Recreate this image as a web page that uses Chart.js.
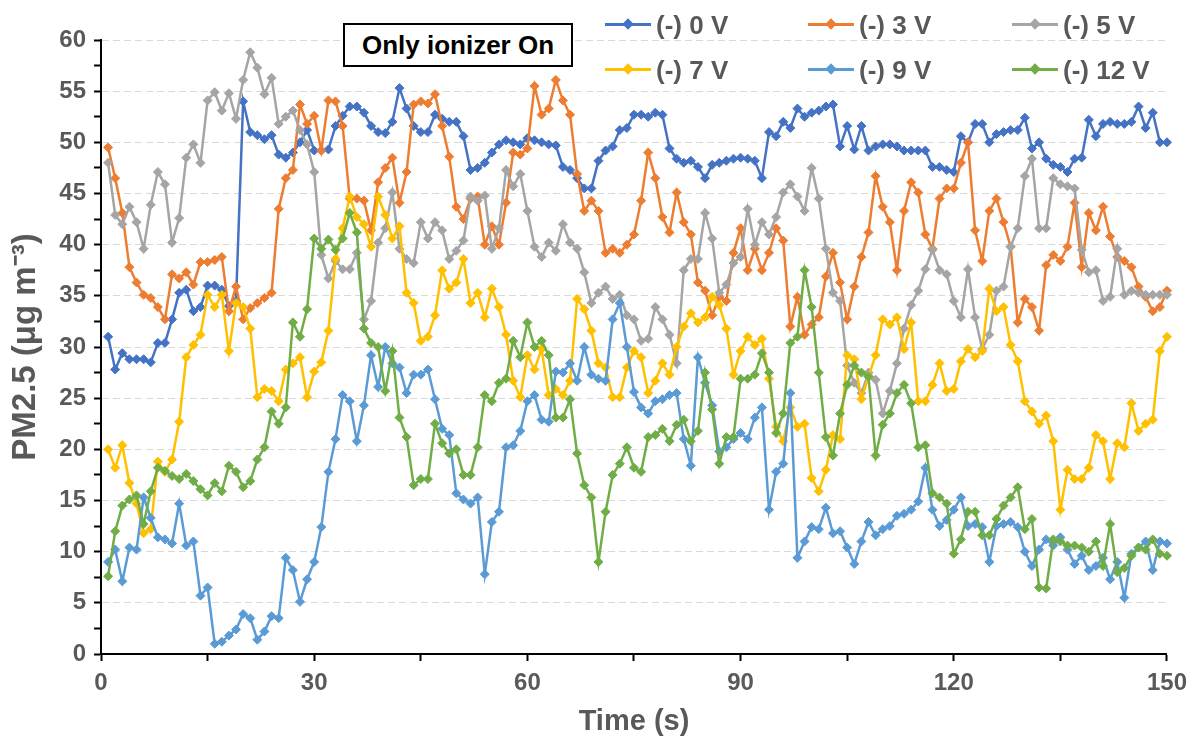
<!DOCTYPE html>
<html>
<head>
<meta charset="utf-8">
<script src="https://cdn.jsdelivr.net/npm/chart.js@4.4.1/dist/chart.umd.min.js"></script>
<style>
  html, body { margin: 0; padding: 0; background: #fff; }
  #wrap { position: relative; width: 1195px; height: 745px; overflow: hidden; }
  #chart { position: absolute; left: 0; top: 0; }
  .note {
    position: absolute; left: 343px; top: 23px; width: 226px; height: 40px;
    border: 2px solid #000; background: #fff; color: #000;
    font: bold 26px "Liberation Sans", Arial, sans-serif;
    text-align: center; line-height: 40px;
  }
  .item {
    position: absolute; height: 28px; line-height: 28px; white-space: nowrap;
    font: bold 26px "Liberation Sans", Arial, sans-serif; color: #595959;
  }
  .item .mark { position: absolute; left: 0; top: 13px; width: 46px; height: 3px; }
  .item .mark i { position: absolute; left: 19px; top: -3px; width: 8px; height: 8px; transform: rotate(45deg); }
  .item span { position: absolute; left: 51px; top: 0; }
</style>
</head>
<body>
<div id="wrap">
  <canvas id="chart" width="1195" height="745"></canvas>
  <div class="note">Only ionizer On</div>
  <div id="legend"></div>
</div>
<script>
// time axis (s)
const times = Array.from({ length: 150 }, (_, i) => i + 1);

const seriesNames = ["(-) 0 V", "(-) 3 V", "(-) 5 V", "(-) 7 V", "(-) 9 V", "(-) 12 V"];
const seriesColors = ["#4472C4", "#ED7D31", "#A5A5A5", "#FFC000", "#5B9BD5", "#70AD47"];

// PM2.5 readings (ug m-3), one per second
const v0 = [31.0,27.8,29.4,28.8,28.8,28.8,28.5,30.4,30.4,32.7,
  35.3,35.6,33.5,33.9,36.0,36.0,35.6,34.0,34.5,54.0,
  51.0,50.7,50.3,50.7,48.8,48.5,49.0,50.0,51.2,49.2,
  49.2,49.3,51.6,52.6,53.5,53.5,52.9,51.6,51.0,50.9,
  52.0,55.3,53.3,51.6,51.0,51.0,52.7,52.3,52.0,52.0,
  50.6,47.3,47.5,48.0,49.0,49.8,50.2,50.0,49.8,50.4,
  50.2,50.0,49.8,49.7,47.6,47.3,46.5,45.5,45.5,48.2,
  49.2,49.6,51.2,51.4,52.7,52.7,52.5,52.9,52.7,49.4,
  48.4,48.0,48.2,47.6,46.5,47.8,48.0,48.2,48.4,48.5,
  48.4,48.2,46.5,51.0,50.6,52.0,51.4,53.3,52.5,52.9,
  53.1,53.5,53.7,49.6,51.6,49.3,51.6,49.2,49.6,49.8,
  49.8,49.6,49.2,49.2,49.2,49.2,47.6,47.6,47.3,47.1,
  50.6,50.0,51.8,51.8,50.0,50.8,51.0,51.2,51.2,52.4,
  49.4,50.0,48.4,47.8,47.6,47.1,48.4,48.5,52.2,50.6,
  51.8,52.0,51.8,51.8,52.0,53.5,51.4,52.9,50.0,50.0];

const v3 = [49.5,46.5,43.1,37.8,36.3,35.1,34.8,33.9,32.7,37.1,
  36.7,37.3,36.1,38.3,38.3,38.5,38.8,33.5,35.9,32.7,
  33.8,34.3,34.8,35.3,43.5,46.5,47.3,53.7,51.8,52.6,
  49.2,54.1,54.0,51.6,44.5,44.5,44.3,41.4,46.1,47.5,
  48.5,44.1,47.1,53.7,54.0,53.8,54.7,51.6,48.6,43.7,
  42.5,44.5,44.7,40.0,41.8,40.0,44.1,49.0,48.8,49.4,
  55.5,52.7,53.3,56.1,54.1,52.7,46.9,43.3,44.3,43.3,
  39.2,39.6,39.2,40.0,41.0,44.3,49.0,46.5,42.7,41.2,
  45.1,42.2,41.0,36.3,35.5,33.1,34.9,34.5,39.2,41.6,
  37.5,39.6,37.5,39.2,41.6,40.4,32.0,34.9,31.2,32.2,
  32.9,36.9,39.2,36.3,32.7,35.9,38.8,41.2,46.7,43.7,
  42.2,37.5,43.3,46.1,45.1,41.0,39.6,44.5,45.5,45.5,
  48.0,50.0,41.4,38.4,43.3,44.5,42.2,39.8,32.4,34.7,
  33.9,31.6,38.0,39.0,38.4,39.8,44.1,37.8,43.1,41.4,
  43.7,40.8,38.8,38.4,37.8,35.9,34.9,33.5,33.9,35.5];

const v5 = [48.0,42.9,42.0,43.7,42.2,39.6,43.9,47.1,45.9,40.2,
  42.6,48.5,49.8,48.0,54.1,54.9,53.1,54.8,52.3,56.1,
  58.8,57.3,54.7,56.3,51.8,52.5,53.1,51.2,49.8,47.1,
  39.0,36.7,38.4,37.6,37.6,39.2,32.7,34.5,40.2,41.6,
  45.1,39.6,38.6,38.2,42.2,40.6,42.2,41.4,38.6,39.4,
  40.4,44.7,44.3,44.8,39.6,41.6,47.3,45.7,46.9,43.3,
  39.8,38.8,40.2,39.4,42.0,40.2,39.6,37.3,34.3,35.3,
  35.9,34.7,35.1,33.1,32.7,30.6,30.8,33.9,32.7,31.2,
  28.4,37.5,38.6,38.6,43.1,40.6,35.3,36.1,38.2,38.8,
  43.5,40.0,42.2,41.0,42.7,45.1,45.9,44.7,43.3,47.5,
  44.5,39.6,35.3,34.5,28.2,26.5,25.5,27.5,26.8,23.5,
  25.7,28.4,31.8,34.1,35.5,37.6,39.5,37.5,37.1,34.5,
  32.9,37.6,32.9,29.8,31.2,35.5,35.9,39.8,41.6,46.7,
  48.4,41.6,41.6,46.5,45.9,45.7,45.5,39.5,37.3,37.5,
  34.5,34.9,39.6,35.1,35.5,35.3,35.1,35.1,35.1,35.1];

const v7 = [20.0,18.2,20.4,16.7,14.7,11.8,12.2,18.8,17.8,19.0,
  22.7,29.0,30.2,31.2,35.1,33.9,35.1,29.6,34.3,33.9,
  31.8,25.1,25.9,25.7,24.7,27.8,28.4,29.0,25.1,27.6,
  28.5,31.6,38.6,41.6,44.7,42.7,42.0,39.8,44.7,42.9,
  40.6,41.8,35.3,34.3,30.6,31.0,33.1,37.5,35.7,36.3,
  38.6,34.3,35.3,32.9,35.7,33.9,31.2,26.7,25.1,29.2,
  27.8,29.8,25.3,25.9,25.3,26.7,34.7,33.7,31.6,28.4,
  28.0,25.1,25.1,28.0,29.6,29.0,25.5,26.7,28.4,27.3,
  30.0,32.0,33.3,32.4,32.9,34.9,34.1,31.8,27.3,29.6,
  31.0,30.2,30.8,26.9,22.2,20.8,24.1,22.2,22.5,17.2,
  15.9,18.0,21.4,21.0,29.2,28.8,24.9,27.1,29.2,32.7,
  32.2,32.9,29.8,32.4,24.7,24.7,26.3,28.4,25.7,25.9,
  28.6,29.8,29.0,29.6,35.7,33.5,33.9,30.2,28.6,24.7,
  23.7,22.5,23.3,20.8,14.1,18.0,17.1,17.1,18.2,21.4,
  20.8,17.1,20.6,20.2,24.5,21.8,22.5,22.9,29.6,31.0];

const v9 = [9.0,10.2,7.1,10.4,10.2,15.3,13.3,11.4,11.2,10.8,
  14.7,10.6,11.0,5.7,6.5,1.0,1.2,1.8,2.4,3.9,
  3.5,1.4,2.2,3.7,3.5,9.4,8.2,5.1,7.3,9.0,
  12.4,17.8,21.0,25.3,24.7,20.8,24.3,29.2,26.1,30.0,
  28.4,28.0,25.5,27.3,27.3,27.8,24.9,22.0,21.4,15.7,
  15.1,14.7,15.3,7.8,12.9,13.9,20.2,20.4,21.8,24.7,
  25.3,22.9,22.7,27.6,27.5,28.4,26.7,30.0,27.3,26.9,
  26.7,32.7,34.3,30.0,25.6,24.1,23.5,24.7,24.9,25.3,
  25.5,21.0,18.4,29.0,26.5,24.3,19.8,20.2,21.0,21.6,
  21.0,23.1,24.1,14.1,17.8,18.6,25.5,9.4,11.0,12.4,
  12.2,14.3,11.8,12.0,10.4,8.8,11.0,12.9,11.6,12.2,
  12.5,13.5,13.7,14.1,14.9,18.2,14.1,12.5,13.1,14.1,
  15.3,12.5,12.7,12.4,9.0,12.5,12.7,12.9,12.4,10.0,
  8.6,10.2,11.2,10.6,11.4,10.2,8.8,9.6,8.2,8.6,
  9.4,7.3,9.0,5.5,9.8,10.4,11.0,8.2,11.0,10.8];

const v12 = [7.6,12.0,14.5,15.1,15.5,12.7,15.9,18.2,17.9,17.4,
  17.1,17.6,16.9,16.1,15.5,16.7,15.9,18.4,17.8,16.3,
  16.9,19.0,20.2,23.7,22.5,24.1,32.4,31.0,33.7,40.6,
  39.6,40.5,39.5,40.6,43.1,41.2,31.8,30.4,30.0,25.7,
  29.6,23.1,21.2,16.5,17.1,17.1,22.5,20.6,19.6,20.0,
  17.5,17.5,20.2,25.3,24.7,26.5,26.9,30.6,29.0,32.4,
  30.0,30.6,29.2,23.1,23.1,24.9,19.6,16.5,15.3,9.0,
  13.9,17.5,18.6,20.2,18.2,17.8,21.2,21.4,22.0,20.8,
  22.4,22.9,20.8,21.8,27.5,23.9,18.6,21.2,21.2,26.9,
  26.9,27.3,29.4,27.5,21.6,23.5,30.4,31.0,37.5,33.9,
  27.5,21.2,19.4,23.5,26.3,28.2,27.5,27.1,19.4,22.4,
  23.5,25.5,26.3,24.5,20.2,20.4,15.7,15.3,14.7,9.8,
  11.2,13.9,13.9,11.6,11.6,13.2,14.5,15.3,16.3,12.2,
  13.2,6.5,6.4,11.2,11.0,10.6,10.6,10.4,10.0,11.0,
  8.6,12.7,8.0,8.4,9.6,10.4,10.2,11.2,9.8,9.6];

const seriesValues = [v0, v3, v5, v7, v9, v12];

const yTicks = [0, 5, 10, 15, 20, 25, 30, 35, 40, 45, 50, 55, 60];
const xTicks = [0, 30, 60, 90, 120, 150];

const FONT = "'Liberation Sans', Arial, sans-serif";
const TEXT = "#595959";

// legend (html, placed like the original, over the plot)
const legendBox = document.getElementById("legend");
const legendCols = [605, 808, 1012];
const legendRows = [10, 55];
seriesNames.forEach((name, i) => {
  const item = document.createElement("div");
  item.className = "item";
  item.style.left = legendCols[i % 3] + "px";
  item.style.top = legendRows[Math.floor(i / 3)] + "px";
  item.innerHTML = `<div class="mark" style="background:${seriesColors[i]}"><i style="background:${seriesColors[i]}"></i></div><span>${name}</span>`;
  legendBox.appendChild(item);
});

const datasets = seriesNames.map((name, i) => ({
  label: name,
  data: times.map((t, k) => ({ x: t, y: seriesValues[i][k] })),
  borderColor: seriesColors[i],
  backgroundColor: seriesColors[i],
  borderWidth: 2.5,
  pointStyle: "rectRot",
  pointRadius: 4.5,
  pointBorderWidth: 1,
  tension: 0,
  clip: false,
  order: seriesNames.length - i, // later series drawn on top, like Excel
}));

const ctx = document.getElementById("chart").getContext("2d");
new Chart(ctx, {
  type: "line",
  data: { datasets },
  options: {
    responsive: false,
    animation: false,
    devicePixelRatio: 1,
    layout: { padding: { top: 40, right: 23, left: 0, bottom: 0 } },
    plugins: { legend: { display: false }, tooltip: { enabled: false } },
    scales: {
      x: {
        type: "linear",
        min: 0,
        max: 150,
        afterBuildTicks: (scale) => {
          scale.ticks = [0, 15, 30, 45, 60, 75, 90, 105, 120, 135, 150].map((v) => ({ value: v }));
        },
        ticks: {
          autoSkip: false,
          maxRotation: 0,
          padding: 8,
          color: TEXT,
          font: { family: FONT, size: 24, weight: "bold" },
          callback: (v) => (xTicks.includes(v) ? v : ""),
        },
        grid: { drawOnChartArea: false, tickColor: "#000", tickLength: 7, tickWidth: 2 },
        border: { color: "#000", width: 2 },
        title: {
          display: true,
          text: "Time (s)",
          color: TEXT,
          font: { family: FONT, size: 29, weight: "bold" },
          padding: { top: 0, bottom: 6 },
        },
        afterFit: (scale) => { scale.height = 91; },
      },
      y: {
        min: 0,
        max: 60,
        afterBuildTicks: (scale) => {
          const t = [];
          for (let k = 0; k < yTicks.length; k++) {
            t.push({ value: yTicks[k] });
            if (k < yTicks.length - 1) t.push({ value: yTicks[k] + 2.5 });
          }
          scale.ticks = t;
        },
        ticks: {
          autoSkip: false,
          padding: 8,
          color: TEXT,
          font: { family: FONT, size: 24, weight: "bold" },
          callback: (v) => (yTicks.includes(v) ? v : ""),
        },
        grid: {
          color: (c) => (c.tick && c.tick.value > 0 && yTicks.includes(c.tick.value) ? "#d9d9d9" : "rgba(0,0,0,0)"),
          lineWidth: 1,
          tickColor: "#000",
          tickLength: 7,
          tickWidth: 2,
        },
        border: { color: "#000", width: 2, dash: [7, 4] },
        title: {
          display: true,
          text: "PM2.5 (μg m⁻³)",
          color: TEXT,
          font: { family: FONT, size: 33, weight: "bold" },
          padding: { top: 6, bottom: 0 },
        },
        afterFit: (scale) => { scale.width = 101; },
      },
    },
  },
});
</script>
</body>
</html>
